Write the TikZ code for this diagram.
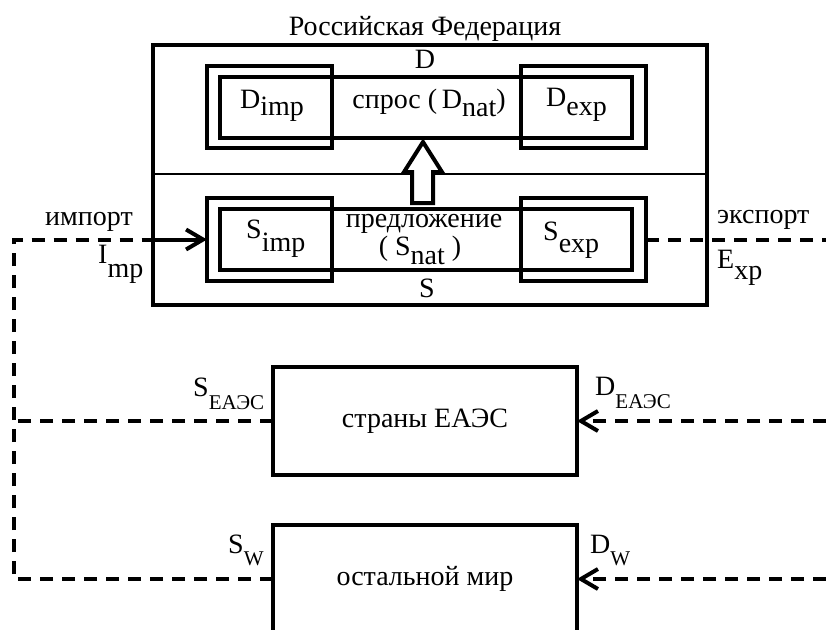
\documentclass[tikz,border=0pt]{standalone}
\usepackage{fontspec}
\setmainfont{Liberation Serif}
\usetikzlibrary{arrows.meta}
\newcommand{\lowr}[2]{\raisebox{-#1pt}{#2}}
\newcommand{\smallsub}[2]{\raisebox{-#1pt}{\fontsize{21}{22}\selectfont #2}}
\begin{document}
\begin{tikzpicture}[x=1pt,y=-1pt,
  box/.style={draw, line width=4pt, inner sep=0pt, outer sep=0pt},
  lbl/.style={inner sep=0pt, font=\fontsize{28}{30}\selectfont},
  dline/.style={line width=4pt, dash pattern=on 13pt off 9pt},
  solidline/.style={line width=4pt},
  arr/.style={-{Straight Barb[length=17pt,width=20pt]}},
  thin divider/.style={line width=1.5pt},
  hollow/.style={draw, line width=4pt, fill=white, line join=miter},
]
\useasboundingbox (0,0) rectangle (826,629);
\clip (0,0) rectangle (826,629);

% Russian Federation frame
\node[box, minimum width=554pt, minimum height=260pt] (rf) at (430,175) {};
\coordinate (divy) at (0,174);
\draw[thin divider] (rf.west |- divy) -- (rf.east |- divy);

% demand boxes
\node[box, minimum width=125pt, minimum height=82pt] (dimpbox) at (269.5,107) {};
\node[box, minimum width=125pt, minimum height=82pt] (dexpbox) at (583.5,107) {};
\node[box, minimum width=412pt, minimum height=61pt] (dnatbox) at (426,107.5) {};

% supply boxes
\node[box, minimum width=125pt, minimum height=83pt] (simpbox) at (269.5,239.5) {};
\node[box, minimum width=125pt, minimum height=83pt] (sexpbox) at (583.5,239.5) {};
\node[box, minimum width=412pt, minimum height=61pt] (snatbox) at (426,239.5) {};

% hollow arrow S -> D
\draw[hollow] (412,203) -- (412,172) -- (404,172) -- (423,142) -- (442,172) -- (433,172) -- (433,203) -- cycle;

% EAEU and world
\node[box, minimum width=304pt, minimum height=108pt, font=\fontsize{28}{30}\selectfont] (eaeu) at (425,421) {страны ЕАЭС};
\node[box, minimum width=304pt, minimum height=108pt, font=\fontsize{28}{30}\selectfont] (world) at (425,579) {остальной мир};

% labels
\node[lbl, anchor=base] (title) at (425,35) {Российская Федерация};
\node[lbl, anchor=base] (dl) at (425,68) {D};
\node[lbl, anchor=base west] (dimp) at (240,108) {D\lowr{7}{imp}};
\node[lbl, anchor=base] (dnat) at (429,108) {спрос (\,D\lowr{8}{nat})};
\node[lbl, anchor=base west] (dexp) at (546,106) {D\lowr{9}{exp}};
\node[lbl, anchor=base west] (simpl) at (246,238) {S\lowr{13}{imp}};
\node[lbl, anchor=base] (pred) at (424,227) {предложение};
\node[lbl, anchor=base] (snat) at (420,255) {( S\lowr{9}{nat} )};
\node[lbl, anchor=base west] (sexpl) at (543,240) {S\lowr{12}{exp}};
\node[lbl, anchor=base] (sl) at (427,297) {S};
\node[lbl, anchor=base east] (impl) at (133,225) {импорт};
\node[lbl, anchor=base west] (imp2) at (98,263) {I\lowr{14}{mp}};
\node[lbl, anchor=base west] (expl) at (717,223) {экспорт};
\node[lbl, anchor=base west] (exp2) at (717,268) {E\lowr{11}{xp}};
\node[lbl, anchor=base west] (seaeu) at (193,396) {S\smallsub{13}{ЕАЭС}};
\node[lbl, anchor=base west] (deaeu) at (595,395) {D\smallsub{13}{ЕАЭС}};
\node[lbl, anchor=base west] (sw) at (228,553) {S\smallsub{12}{W}};
\node[lbl, anchor=base west] (dw) at (590,553) {D\smallsub{12}{W}};

% connectors
\coordinate (cL) at (14,239.5);
\coordinate (impEntry) at (153,239.5);
\coordinate (expEnd) at (826,239.5);
\coordinate (rEaeu) at (826,421);
\coordinate (rWorld) at (826,579);

\draw[dline] (world.west) -| (cL) -- (impEntry);
\draw[dline] (eaeu.west) -- (cL |- eaeu.west);
\draw[solidline, arr] (impEntry) -- (simpbox.west);
\draw[dline] (sexpbox.east) -- (expEnd);
\draw[dline, arr] (rEaeu) -- (eaeu.east);
\draw[dline, arr] (rWorld) -- (world.east);
\end{tikzpicture}
\end{document}
